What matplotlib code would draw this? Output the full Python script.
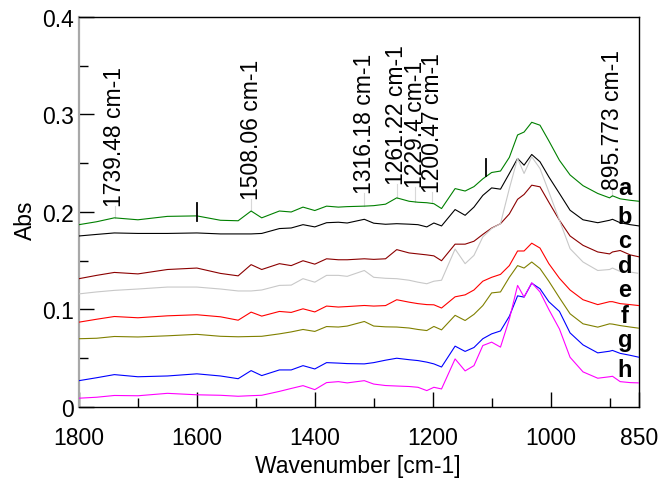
import matplotlib
matplotlib.use("Agg")
import matplotlib.pyplot as plt
import numpy as np

plt.rcParams["font.family"] = ["Liberation Sans", "DejaVu Sans"]

# wavenumber grid (cm-1) and absorbance of the 8 spectra
WN = [1800, 1770, 1740, 1700, 1650, 1600, 1560, 1530, 1508, 1490, 1460, 1440,
      1420, 1400, 1380, 1360, 1345, 1316, 1300, 1280, 1261, 1240, 1225, 1210,
      1198, 1185, 1162, 1145, 1130, 1115, 1100, 1085, 1070, 1056, 1045, 1032,
      1018, 1003, 985, 967, 945, 920, 900, 895, 882, 865, 850]

SPEC_A = [0.187, 0.190, 0.194, 0.192, 0.1955, 0.196, 0.1915, 0.191, 0.201, 0.194,
          0.201, 0.200, 0.205, 0.2015, 0.206, 0.205, 0.2055, 0.206, 0.2065, 0.208,
          0.2145, 0.211, 0.210, 0.2095, 0.2085, 0.2035, 0.224, 0.2215, 0.226, 0.234,
          0.2405, 0.242, 0.256, 0.279, 0.282, 0.292, 0.289, 0.273, 0.253, 0.238,
          0.227, 0.219, 0.2145, 0.2166, 0.2135, 0.212, 0.211]
SPEC_B = [0.1754, 0.177, 0.1785, 0.178, 0.178, 0.1785, 0.1775, 0.1775, 0.1775, 0.178,
          0.183, 0.1836, 0.187, 0.1847, 0.189, 0.1895, 0.1887, 0.1925, 0.1885, 0.1874,
          0.188, 0.1875, 0.187, 0.1847, 0.1887, 0.1857, 0.2025, 0.1966, 0.205, 0.217,
          0.2247, 0.2234, 0.2395, 0.2549, 0.248, 0.259, 0.2515, 0.236, 0.219, 0.2018,
          0.192, 0.189, 0.1915, 0.1925, 0.189, 0.187, 0.1857]
SPEC_C = [0.1316, 0.135, 0.138, 0.1365, 0.141, 0.1425, 0.137, 0.1345, 0.146, 0.141,
          0.147, 0.145, 0.150, 0.1465, 0.152, 0.151, 0.151, 0.152, 0.1514, 0.152,
          0.1614, 0.158, 0.157, 0.156, 0.155, 0.150, 0.167, 0.167, 0.170, 0.177,
          0.1835, 0.188, 0.198, 0.213, 0.218, 0.2275, 0.2258, 0.210, 0.1915, 0.1754,
          0.1658, 0.159, 0.157, 0.159, 0.1605, 0.156, 0.154]
SPEC_D = [0.116, 0.118, 0.1196, 0.121, 0.123, 0.123, 0.121, 0.119, 0.119, 0.120,
          0.1247, 0.125, 0.1316, 0.128, 0.135, 0.135, 0.134, 0.140, 0.133, 0.132,
          0.1316, 0.130, 0.128, 0.1264, 0.129, 0.130, 0.162, 0.147, 0.1555, 0.1744,
          0.183, 0.188, 0.224, 0.255, 0.2395, 0.2566, 0.2446, 0.2207, 0.1915, 0.1624,
          0.1487, 0.140, 0.141, 0.1425, 0.139, 0.1384, 0.137]
SPEC_E = [0.087, 0.090, 0.0928, 0.0915, 0.0935, 0.0946, 0.0925, 0.089, 0.0973, 0.0932,
          0.098, 0.097, 0.1007, 0.0975, 0.1035, 0.1025, 0.103, 0.1041, 0.1035, 0.104,
          0.110, 0.1075, 0.106, 0.105, 0.1048, 0.1015, 0.113, 0.115, 0.120, 0.129,
          0.133, 0.136, 0.145, 0.160, 0.160, 0.168, 0.163, 0.147, 0.132, 0.120,
          0.110, 0.105, 0.108, 0.108, 0.106, 0.105, 0.104]
SPEC_F = [0.070, 0.0705, 0.0723, 0.0718, 0.073, 0.0745, 0.0725, 0.072, 0.0723, 0.0725,
          0.075, 0.077, 0.0795, 0.0775, 0.0825, 0.082, 0.083, 0.0877, 0.083, 0.0822,
          0.082, 0.081, 0.0795, 0.0784, 0.0826, 0.0791, 0.094, 0.0887, 0.095, 0.104,
          0.117, 0.118, 0.133, 0.145, 0.1425, 0.1487, 0.142, 0.129, 0.112, 0.0956,
          0.0853, 0.0819, 0.0853, 0.085, 0.0835, 0.082, 0.0808]
SPEC_G = [0.027, 0.030, 0.0332, 0.031, 0.0318, 0.034, 0.0318, 0.029, 0.0373, 0.0322,
          0.038, 0.038, 0.0424, 0.039, 0.0455, 0.045, 0.0445, 0.0442, 0.0455, 0.048,
          0.050, 0.0485, 0.0476, 0.046, 0.0442, 0.041, 0.0624, 0.057, 0.061, 0.070,
          0.075, 0.078, 0.093, 0.114, 0.1127, 0.127, 0.1213, 0.108, 0.098, 0.076,
          0.0637, 0.0555, 0.0572, 0.058, 0.055, 0.053, 0.051]
SPEC_H = [0.009, 0.010, 0.0118, 0.0115, 0.014, 0.0125, 0.012, 0.011, 0.0116, 0.012,
          0.016, 0.019, 0.0219, 0.0178, 0.025, 0.026, 0.0247, 0.027, 0.0235, 0.022,
          0.0215, 0.021, 0.0202, 0.0168, 0.0202, 0.0185, 0.0493, 0.037, 0.0424, 0.063,
          0.0665, 0.0614, 0.090, 0.1247, 0.1127, 0.1274, 0.118, 0.100, 0.080, 0.051,
          0.036, 0.0295, 0.031, 0.0315, 0.026, 0.025, 0.0247]

SERIES = [SPEC_A, SPEC_B, SPEC_C, SPEC_D, SPEC_E, SPEC_F, SPEC_G, SPEC_H]
NAMES = ["a", "b", "c", "d", "e", "f", "g", "h"]
COLORS = ["#008000", "#000000", "#8b0000", "#c8c8c8", "#ff0000", "#808000", "#0000ff", "#ff00ff"]

# marked peaks
PEAK_WN = [1739.48, 1508.06, 1316.18, 1261.22, 1229.4, 1200.47, 895.773]
PEAK_TXT = ["1739.48 cm-1", "1508.06 cm-1", "1316.18 cm-1", "1261.22 cm-1",
            "1229.4 cm-1", "1200.47 cm-1", "895.773 cm-1"]

# layout only
PEAK_TEXT_Y = [0.2066, 0.2138, 0.219, 0.229, 0.226, 0.220, 0.224]
NAME_Y = [0.2189, 0.189, 0.1644, 0.1388, 0.1141, 0.0874, 0.0627, 0.0319]

fig = plt.figure(figsize=(6.62, 4.85), dpi=100)
ax = fig.add_axes([0.1193, 0.1588, 0.846, 0.8041])

for vals, col in zip(SERIES, COLORS):
    ax.plot(WN, vals, color=col, lw=0.8, zorder=3)

# peak labels with thin guide lines down to the top spectrum
for wn, txt, ty in zip(PEAK_WN, PEAK_TXT, PEAK_TEXT_Y):
    ax.text(wn, ty, txt, rotation=90, ha="center", va="bottom", fontsize=16.5, zorder=5)
    yc = np.interp(wn, WN[::-1], SPEC_A[::-1])
    ax.plot([wn, wn], [ty, yc], color="#d8d8d8", lw=0.8, zorder=2)

# cursor marks
ax.plot([1600, 1600], [0.191, 0.2097], color="black", lw=1.3, zorder=4)
ax.plot([1110, 1110], [0.2364, 0.254], color="black", lw=1.3, zorder=4)

# curve names on the right
for name, ny in zip(NAMES, NAME_Y):
    ax.text(874, ny, name, ha="center", va="baseline", fontsize=17, fontweight="bold", zorder=6)

ax.set_xlim(1800, 850)
ax.set_ylim(0, 0.4)

ax.set_xticks([1800, 1600, 1400, 1200, 1000, 850])
ax.set_xticklabels(["1800", "1600", "1400", "1200", "1000", "850"])
ax.set_xticks([1700, 1500, 1300, 1100, 900], minor=True)
ax.set_yticks([0, 0.1, 0.2, 0.3, 0.4])
ax.set_yticklabels(["0", "0.1", "0.2", "0.3", "0.4"])
ax.set_yticks([0.05, 0.15, 0.25, 0.35], minor=True)

ax.tick_params(axis="both", which="major", direction="in", length=11, width=1.0,
               labelsize=16.5, color="black")
ax.tick_params(axis="both", which="minor", direction="in", length=6.5, width=1.0, color="black")
ax.tick_params(axis="x", which="major", pad=13.5)
ax.tick_params(axis="y", which="major", pad=3.5)

for t, loc in zip(ax.xaxis.get_major_ticks(), [1800, 1600, 1400, 1200, 1000, 850]):
    if loc in (1400, 1000):
        t.tick1line.set_color("#a8a8a8")
for t, loc in zip(ax.yaxis.get_major_ticks(), [0, 0.1, 0.2, 0.3, 0.4]):
    if loc == 0.2:
        t.tick1line.set_color("#a8a8a8")
    elif loc == 0.1:
        t.tick1line.set_color("#606060")

for side in ["top", "right", "bottom"]:
    ax.spines[side].set_color("black")
    ax.spines[side].set_linewidth(1.0)
ax.spines["left"].set_color("#a8a8a8")
ax.spines["left"].set_linewidth(1.6)

ax.set_xlabel("Wavenumber [cm-1]", fontsize=16.5)
ax.xaxis.label.set_va("center")
ax.xaxis.set_label_coords(0.497, -0.151)
ax.set_ylabel("Abs", fontsize=16.5)
ax.yaxis.label.set_va("center")
ax.yaxis.set_label_coords(-0.0964, 0.482)

fig.savefig("out.png", dpi=100, facecolor="white")
plt.close(fig)
